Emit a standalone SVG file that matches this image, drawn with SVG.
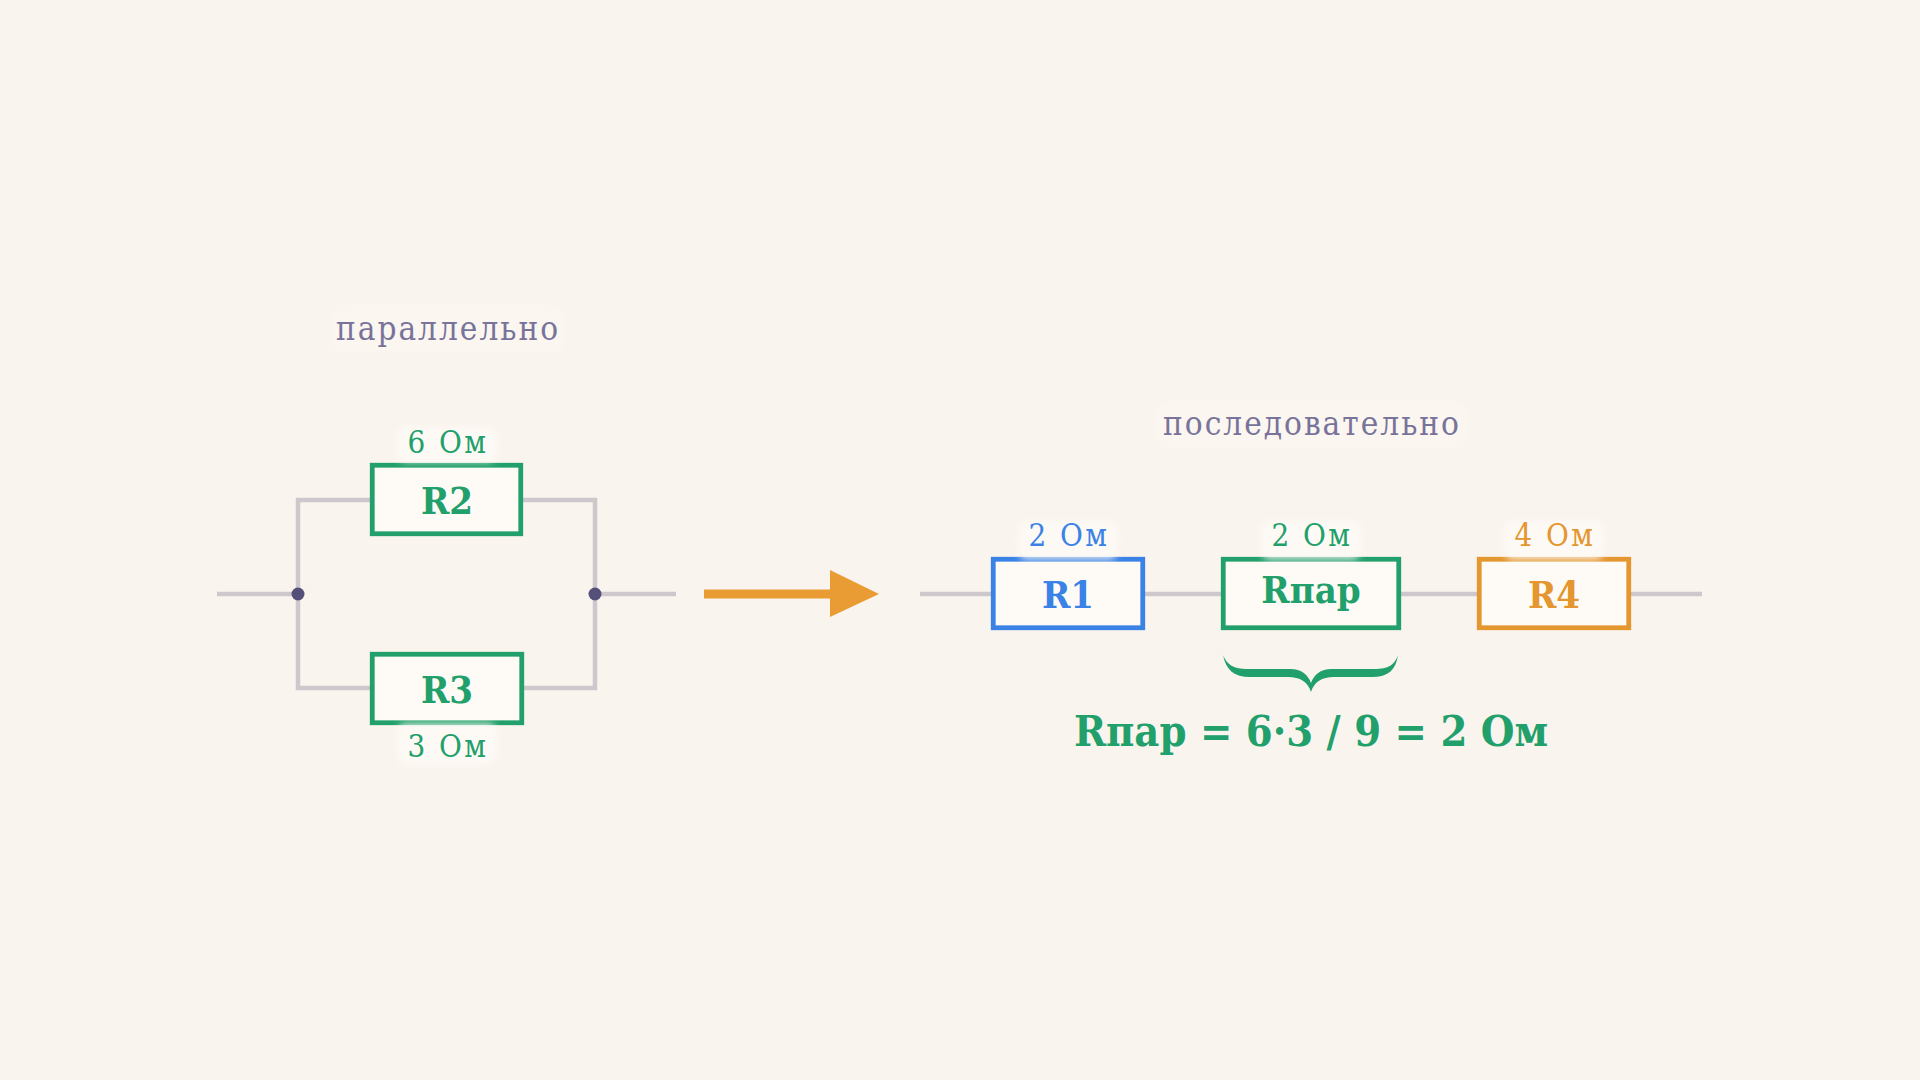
<svg xmlns="http://www.w3.org/2000/svg" width="1920" height="1080" viewBox="0 0 1920 1080">
<style>
.wire{fill:none;stroke:#cdc8cb;stroke-width:4.5;stroke-linejoin:miter;stroke-linecap:butt}
.box{fill:#fefbf6;stroke-width:4.8}
.g{stroke:#22a06b}
.b{stroke:#3a82e6}
.o{stroke:#e4962f}
.serif{font-family:"DejaVu Serif Condensed","DejaVu Serif",serif;font-stretch:condensed}
.name{font-weight:bold;font-size:38px;text-anchor:middle}
.lbl{font-size:31px;letter-spacing:2.5px;text-anchor:middle}
.title{font-size:33px;letter-spacing:2px;text-anchor:middle;fill:#78739a}
.halo{fill:#fefcf8;opacity:0.75;filter:url(#blur)}
.thalo{fill:#fefcf8;opacity:0.25;filter:url(#blur)}
.tg{fill:#22a06b}
.tb{fill:#3a82e6}
.to{fill:#e4962f}
</style>
<defs>
<filter id="blur" x="-20%" y="-40%" width="140%" height="180%"><feGaussianBlur stdDeviation="3.5"/></filter>
</defs>
<rect width="1920" height="1080" fill="#faf4ee"/>

<g id="connectors">
<line class="wire" x1="217" y1="594" x2="298" y2="594"/>
<polyline class="wire" points="372,500 298,500 298,688 372,688"/>
<polyline class="wire" points="521,500 595,500 595,688 522,688"/>
<line class="wire" x1="595" y1="594" x2="676" y2="594"/>
<line class="wire" x1="920" y1="594" x2="994" y2="594"/>
<line class="wire" x1="1143" y1="594" x2="1223" y2="594"/>
<line class="wire" x1="1399" y1="594" x2="1479" y2="594"/>
<line class="wire" x1="1629" y1="594" x2="1702" y2="594"/>
<circle cx="298" cy="594" r="6.5" fill="#55507a"/>
<circle cx="595" cy="594" r="6.5" fill="#55507a"/>
<g id="arrow">
<line x1="704" y1="594" x2="832" y2="594" stroke="#ea9c34" stroke-width="9"/>
<polygon points="830,570 879,594 830,617" fill="#ea9c34"/>
</g>
</g>

<g id="title-parallel">
<rect class="thalo" x="330" y="305" width="234" height="48" rx="12"/>
<text class="serif title" x="448" y="340">параллельно</text>
</g>
<g id="title-series">
<rect class="thalo" x="1155" y="400" width="312" height="48" rx="12"/>
<text class="serif title" x="1312" y="435">последовательно</text>
</g>

<g id="R2">
<rect class="box g" x="372.25" y="465.25" width="148.5" height="68.5"/>
<text class="serif name tg" x="447" y="514">R2</text>
<rect class="halo" x="398" y="428" width="98" height="34" rx="8"/>
<text class="serif lbl tg" x="448" y="453">6 Ом</text>
</g>

<g id="R3">
<rect class="box g" x="372.25" y="654.25" width="149.5" height="68.5"/>
<text class="serif name tg" x="447" y="703">R3</text>
<rect class="halo" x="398" y="723" width="98" height="40" rx="8"/>
<text class="serif lbl tg" x="448" y="757">3 Ом</text>
</g>

<g id="R1">
<rect class="box b" x="993.25" y="559.25" width="149.5" height="68.5"/>
<text class="serif name tb" x="1068" y="608">R1</text>
<rect class="halo" x="1019" y="522" width="98" height="38" rx="8"/>
<text class="serif lbl tb" x="1069" y="546">2 Ом</text>
</g>

<g id="Rpar">
<rect class="box g" x="1223.25" y="559.25" width="175.5" height="68.5"/>
<text class="serif name tg" x="1311" y="603">Rпар</text>
<rect class="halo" x="1262" y="522" width="98" height="38" rx="8"/>
<text class="serif lbl tg" x="1312" y="546">2 Ом</text>
</g>

<g id="R4">
<rect class="box o" x="1479.25" y="559.25" width="149.5" height="68.5"/>
<text class="serif name to" x="1554" y="608">R4</text>
<rect class="halo" x="1505" y="522" width="98" height="38" rx="8"/>
<text class="serif lbl to" x="1555" y="546">4 Ом</text>
</g>

<g id="formula">
<path fill="#22a06b" d="M1223,655 C1228,667 1236,669 1250,669 L1290,669 C1302,669 1308,675 1311,683 C1314,675 1320,669 1332,669 L1372,669 C1386,669 1394,667 1398,655 C1396,670 1388,677 1372,677 L1334,677 C1322,677 1314,682 1311,692 C1308,682 1300,677 1288,677 L1250,677 C1234,677 1226,670 1223,655 Z"/>
<text class="serif" x="1311" y="746" font-weight="bold" font-size="43" text-anchor="middle" fill="#22a06b">Rпар = 6·3 / 9 = 2 Ом</text>
</g>
</svg>
